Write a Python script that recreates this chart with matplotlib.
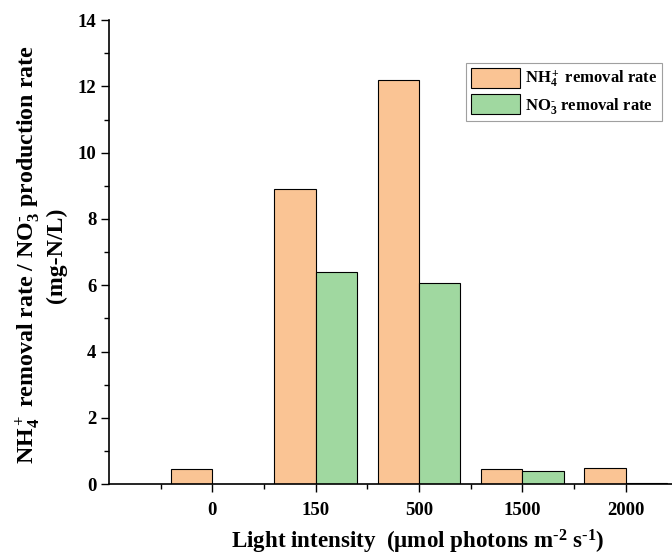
import matplotlib
matplotlib.use("Agg")
import matplotlib.pyplot as plt
from matplotlib.ticker import MultipleLocator
import numpy as np

categories = ["0", "150", "500", "1500", "2000"]
nh4_removal = [0.45, 8.9, 12.18, 0.47, 0.49]
no3_removal = [0.0, 6.4, 6.08, 0.39, 0.03]

ORANGE = "#FAC494"
GREEN = "#A0D8A0"

plt.rcParams["font.family"] = "Liberation Serif"
plt.rcParams["font.weight"] = "bold"
plt.rcParams["mathtext.fontset"] = "custom"
plt.rcParams["mathtext.rm"] = "Liberation Serif:bold"
plt.rcParams["mathtext.it"] = "Liberation Serif:italic:bold"
plt.rcParams["mathtext.bf"] = "Liberation Serif:bold"
plt.rcParams["mathtext.default"] = "rm"

fig = plt.figure(figsize=(6.72, 5.59), dpi=100)
ax = fig.add_axes([0.162, 0.134, 0.838, 0.830])

x = np.arange(len(categories))
w = 0.4
ax.bar(x - w / 2, nh4_removal, w, color=ORANGE, edgecolor="black", lw=0.8,
       label=r"NH$_4^+$ removal rate")
ax.bar(x + w / 2, no3_removal, w, color=GREEN, edgecolor="black", lw=0.8,
       label=r"NO$_3^{\text{-}}$ removal rate")

ax.set_xlim(-1, 4.45)
ax.set_ylim(0, 14)
ax.set_xticks(x)
ax.set_xticklabels(categories)
ax.set_xticks(x - 0.5, minor=True)
ax.yaxis.set_major_locator(MultipleLocator(2))
ax.yaxis.set_minor_locator(MultipleLocator(1))
ax.tick_params(which="major", direction="out", length=6, width=1, labelsize=13.5, pad=3)
ax.tick_params(which="minor", direction="out", length=3.5, width=1)
ax.tick_params(axis="x", pad=7)

for s in ("top", "right"):
    ax.spines[s].set_visible(False)
for s in ("left", "bottom"):
    ax.spines[s].set_linewidth(1.2)

ax.set_xlabel(r"Light intensity  ($\mathregular{\mu}$mol photons m$^{\text{-2}}$ s$^{\text{-1}}$)",
              fontsize=16.6, fontweight="bold", labelpad=6)
ax.xaxis.label.set_x(0.549)
ax.set_ylabel("NH$_4^+$ removal rate / NO$_3^{\\text{-}}$ production rate\n(mg-N/L)",
              fontsize=17.2, fontweight="bold", labelpad=8, linespacing=1.12)
ax.yaxis.label.set_y(0.5 - 3 / 464)

leg = ax.legend(loc="upper right", bbox_to_anchor=(0.997, 0.925), fontsize=12,
                frameon=True, fancybox=False, edgecolor="#888888",
                handlelength=2.9, handleheight=1.4, borderpad=0.3, labelspacing=0.3,
                handletextpad=0.3)
leg.get_frame().set_linewidth(0.8)

fig.savefig("out.png", dpi=100)
